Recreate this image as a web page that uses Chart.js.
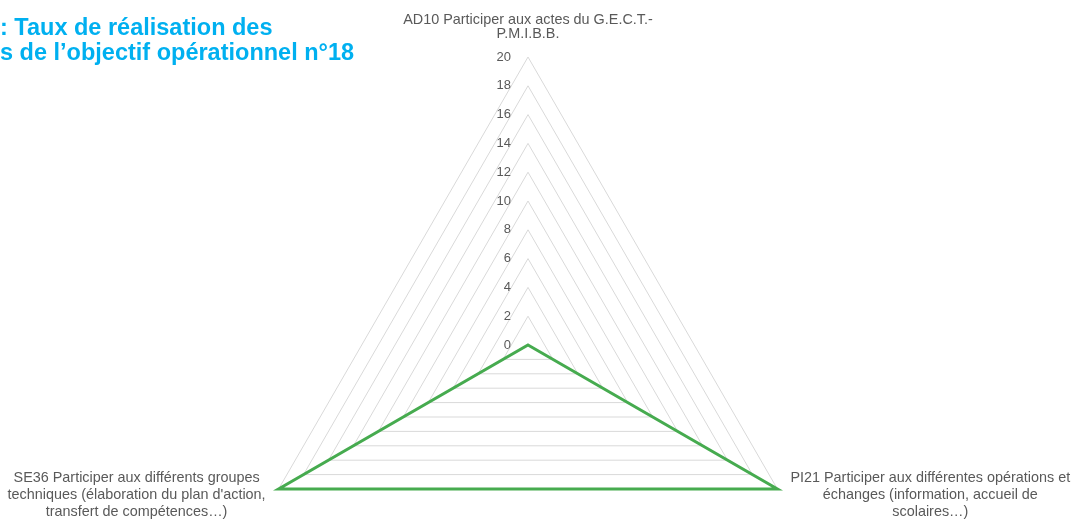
<!DOCTYPE html>
<html>
<head>
<meta charset="utf-8">
<script src="https://cdn.jsdelivr.net/npm/chart.js@4"></script>
<style>
  html, body { margin: 0; padding: 0; background: #fff; overflow: hidden; }
  #wrap { position: relative; width: 1075px; height: 633px; }
  #title {
    position: absolute; left: 0; top: 15px; z-index: 2;
    font: bold 23.5px "Liberation Sans", Arial, sans-serif;
    color: #00B0F0; line-height: 25px; white-space: nowrap;
  }
</style>
</head>
<body>
<div id="wrap">
  <div id="title">: Taux de réalisation des<br>s de l’objectif opérationnel n°18</div>
  <canvas id="radar"></canvas>
</div>
<script>
const axisLabels = [
  ['AD10 Participer aux actes du G.E.C.T.-', 'P.M.I.B.B.'],
  ['PI21 Participer aux différentes opérations et', 'échanges (information, accueil de', 'scolaires…)'],
  ['SE36 Participer aux différents groupes', 'techniques (élaboration du plan d\'action,', 'transfert de compétences…)']
];
const tauxRealisation = [0, 20, 20];
const tickValues = [0, 2, 4, 6, 8, 10, 12, 14, 16, 18, 20];

const FONT = '"Liberation Sans", Arial, sans-serif';
const GREY_TEXT = '#595959';

// Excel style labels: tick values left of the vertical axis, axis names beside the corners
const excelLabels = {
  id: 'excelLabels',
  afterDraw(chart){
    const r = chart.scales.r;
    const ctx = chart.ctx;
    ctx.save();
    ctx.fillStyle = GREY_TEXT;
    ctx.textBaseline = 'middle';

    ctx.font = '13px ' + FONT;
    ctx.textAlign = 'right';
    tickValues.forEach(v => {
      const p = r.getPointPositionForValue(0, v);
      ctx.fillText(String(v), r.xCenter - 17, p.y);
    });

    ctx.font = '14.4px ' + FONT;
    ctx.textAlign = 'center';
    axisLabels.forEach((lines, i) => {
      const p = r.getPointPosition(i, r.drawingArea);
      const w = Math.max(...lines.map(l => ctx.measureText(l).width));
      let x = p.x, y, lh;
      if(i === 0){
        lh = 14;
        y = p.y - 23 - (lines.length - 1) * lh;
      } else {
        lh = 17;
        x += (i === 1 ? 1 : -1) * (w / 2 + 13);
        y = p.y - 11;
      }
      lines.forEach((l, k) => ctx.fillText(l, x, y + k * lh));
    });
    ctx.restore();
  }
};

new Chart(document.getElementById('radar'), {
  type: 'radar',
  data: {
    labels: axisLabels,
    datasets: [{
      label: 'Taux de réalisation',
      data: tauxRealisation,
      borderColor: '#46ab4f',
      borderWidth: 3,
      fill: false,
      pointRadius: 0,
      pointHoverRadius: 0
    }]
  },
  options: {
    responsive: true,
    maintainAspectRatio: false,
    animation: false,
    layout: { padding: { top: 57, left: 0, right: 19, bottom: 0 } },
    plugins: { legend: { display: false }, tooltip: { enabled: false } },
    scales: {
      r: {
        min: 0, max: 20,
        ticks: { display: false, stepSize: 2 },
        angleLines: { display: false },
        grid: { color: '#d9d9d9', lineWidth: 1 },
        pointLabels: { display: false }
      }
    }
  },
  plugins: [excelLabels]
});
</script>
</body>
</html>
